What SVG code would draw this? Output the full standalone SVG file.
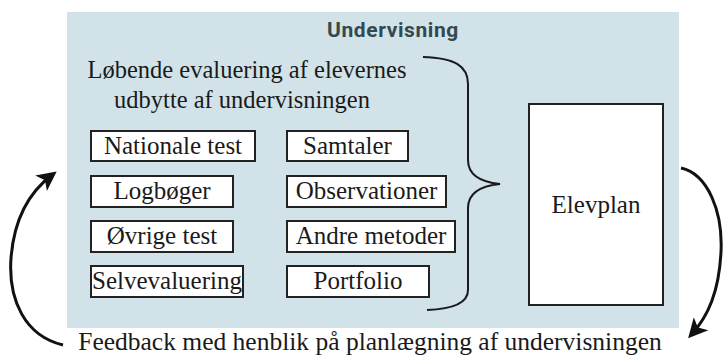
<svg xmlns="http://www.w3.org/2000/svg" width="724" height="358" viewBox="0 0 724 358">
  <style>
    .serif { font-family: "Liberation Serif", "DejaVu Serif", serif; fill: #1a1a1a; }
    .item rect { fill: #ffffff; stroke: #222222; stroke-width: 2; }
    .item text { font-size: 25px; text-anchor: middle; }
    .link { fill: none; stroke: #111111; stroke-width: 3; }
    .brace { fill: none; stroke: #1a1a1a; stroke-width: 2; }
  </style>
  <defs>
    <marker id="head" viewBox="0 0 10 10" refX="7" refY="5" markerWidth="8" markerHeight="6.5" orient="auto" markerUnits="strokeWidth">
      <path d="M0,0 L10,5 L0,10 L2.5,5 Z" fill="#111111"/>
    </marker>
  </defs>

  <!-- teaching area -->
  <g id="undervisning">
    <rect x="67" y="12" width="612" height="316" fill="#d1e2e9"/>
    <text x="393" y="37" font-family="Roboto, 'DejaVu Sans', sans-serif" font-weight="bold" font-size="21" letter-spacing="0.6" fill="#34494f" text-anchor="middle">Undervisning</text>
  </g>

  <g id="evaluering-titel" class="serif" font-size="24.5" text-anchor="middle">
    <text x="247" y="78">Løbende evaluering af elevernes</text>
    <text x="242" y="108">udbytte af undervisningen</text>
  </g>

  <!-- evaluation methods, left column -->
  <g id="nationale-test" class="item serif">
    <rect x="91" y="131" width="164" height="30"/>
    <text x="173" y="154">Nationale test</text>
  </g>
  <g id="logboeger" class="item serif">
    <rect x="91" y="176" width="142" height="31"/>
    <text x="162" y="199">Logbøger</text>
  </g>
  <g id="oevrige-test" class="item serif">
    <rect x="91" y="221" width="142" height="31"/>
    <text x="162" y="244">Øvrige test</text>
  </g>
  <g id="selvevaluering" class="item serif">
    <rect x="91" y="266" width="152" height="31"/>
    <text x="167" y="289">Selvevaluering</text>
  </g>

  <!-- evaluation methods, right column -->
  <g id="samtaler" class="item serif">
    <rect x="287" y="131" width="121" height="30"/>
    <text x="347.5" y="154">Samtaler</text>
  </g>
  <g id="observationer" class="item serif">
    <rect x="287" y="176" width="159" height="31"/>
    <text x="366.5" y="199">Observationer</text>
  </g>
  <g id="andre-metoder" class="item serif">
    <rect x="287" y="221" width="168" height="31"/>
    <text x="371" y="244">Andre metoder</text>
  </g>
  <g id="portfolio" class="item serif">
    <rect x="287" y="266" width="142" height="31"/>
    <text x="358" y="289">Portfolio</text>
  </g>

  <!-- student plan -->
  <g id="elevplan" class="item serif">
    <rect x="529" y="104" width="134" height="201"/>
    <text x="596" y="213">Elevplan</text>
  </g>

  <g id="feedback" class="serif">
    <text x="370" y="350" font-size="25.5" text-anchor="middle">Feedback med henblik på planlægning af undervisningen</text>
  </g>

  <!-- connectors -->
  <g id="connectors">
    <path class="brace" d="M423,57 C455,58 468,66 468,84 L468,160 C468,175 480,182 500,184 C480,186 468,193 468,208 L468,290 C468,302 455,309 427,310"/>
    <path class="link" marker-end="url(#head)" d="M63,345 C25,336 8,300 11,258 C14,220 28,193 52,175"/>
    <path class="link" marker-end="url(#head)" d="M681,168 C708,174 723,212 721,252 C719,292 708,316 692,334"/>
  </g>
</svg>
